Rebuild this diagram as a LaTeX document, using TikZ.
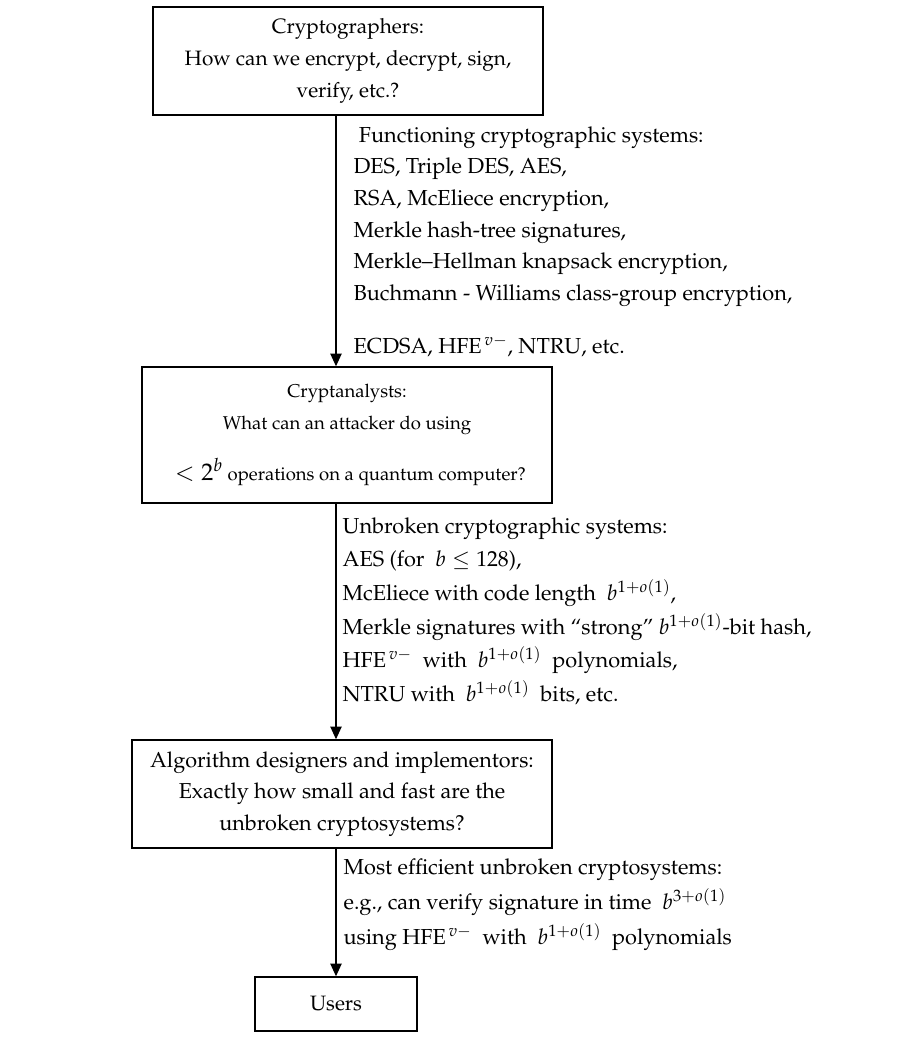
\documentclass[tikz,border=0pt]{standalone}
\usepackage[T1]{fontenc}
\usepackage{mathpazo}
\usetikzlibrary{arrows.meta}

\begin{document}
\begin{tikzpicture}[x=0.75pt,y=-0.75pt,->,>={Triangle[length=9.5pt,width=8.5pt]},
                line width=0.9pt,
                stage/.style={rectangle,draw,line width=1.1pt,align=center,inner sep=0pt,
                  font=\fontsize{15.6}{24}\selectfont},
                outcome/.style={align=left,anchor=north west,inner sep=0pt}]

  \useasboundingbox (0,0) rectangle (912,1054);

  \node[stage,minimum width=292.5pt,minimum height=81pt] (crypto) at (348,61)
    {Cryptographers:\\How can we encrypt, decrypt, sign,\\verify, etc.?};
  \node[stage,minimum width=307.5pt,minimum height=102pt,font=\fontsize{13.9}{24}\selectfont] (analysts) at (347,435)
    {Cryptanalysts:\\What can an attacker do using\\[14pt]{\fontsize{18}{18}\selectfont${}<2^b$} operations on a quantum computer?};
  \node[stage,minimum width=315pt,minimum height=81pt,font=\fontsize{16.2}{23.5}\selectfont] (designers) at (342,794)
    {Algorithm designers and implementors:\\Exactly how small and fast are the\\unbroken cryptosystems?};
  \node[stage,minimum width=121.5pt,minimum height=40.5pt] (users) at (336,1004) {Users};

  \node[outcome,font=\fontsize{16.3}{23.7}\selectfont] (functioning) at (353,126)
    {\hspace*{4pt}Functioning cryptographic systems:\\
     DES, Triple DES, AES,\\
     RSA, McEliece encryption,\\
     Merkle hash-tree signatures,\\
     Merkle--Hellman knapsack encryption,\\
     Buchmann - Williams class-group encryption,\\[16pt]
     ECDSA, HFE$^{\,v-}$, NTRU, etc.};
  \node[outcome,font=\fontsize{16.3}{25.2}\selectfont] (unbroken) at (342,517)
    {Unbroken cryptographic systems:\\
     AES (for \ $b\le 128$),\\
     McEliece with code length \ $b^{1+o(1)}$,\\
     Merkle signatures with ``strong'' $b^{1+o(1)}$-bit hash,\\
     HFE$^{\,v-}$ \ with \ $b^{1+o(1)}$ \ polynomials,\\
     NTRU with \ $b^{1+o(1)}$ \ bits, etc.};
  \node[outcome,font=\fontsize{16.3}{26.2}\selectfont] (efficient) at (343,858)
    {Most efficient unbroken cryptosystems:\\
     e.g., can verify signature in time \ $b^{3+o(1)}$\\
     using HFE$^{\,v-}$ \ with \ $b^{1+o(1)}$ \ polynomials};

  \draw (crypto.south -| users.north) -- (analysts.north -| users.north);
  \draw (analysts.south -| users.north) -- (designers.north -| users.north);
  \draw (designers.south -| users.north) -- (users.north);
\end{tikzpicture}
\end{document}
